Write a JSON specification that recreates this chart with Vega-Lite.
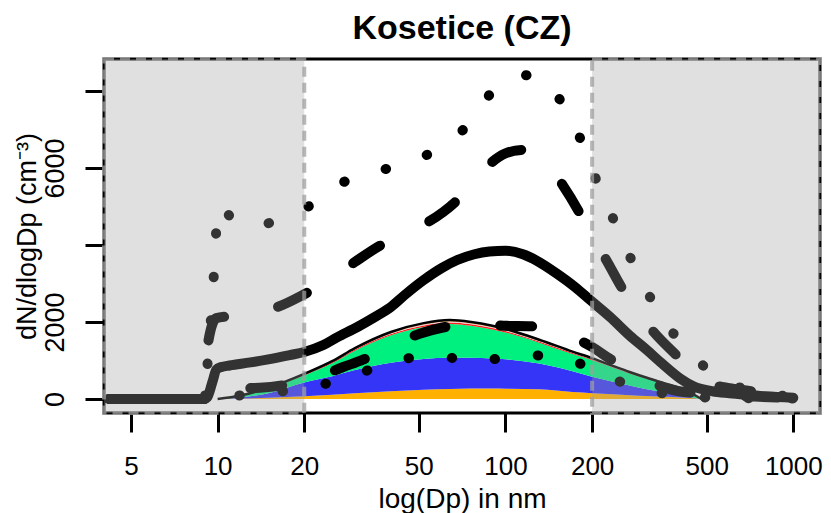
{
"$schema": "https://vega.github.io/schema/vega-lite/v6.json",
"width": 716, "height": 354,
"autosize": {"type": "none"},
"padding": {"left": 104, "top": 59, "right": 11, "bottom": 100},
"background": "white",
"config": {"view": {"stroke": "black", "strokeWidth": 3}, "font": "Liberation Sans"},
"title": {"text": "Kosetice (CZ)", "fontSize": 34, "fontWeight": "bold", "font": "Liberation Sans", "color": "black", "anchor": "middle", "baseline": "alphabetic", "offset": 19, "dy": 37},
"datasets": {
"comps": [
{"d":10,"c1":0,"c2":0,"c3":0,"c4":0,"c5":0,"c6":0},
{"d":12,"c1":10,"c2":30,"c3":46,"c4":2,"c5":1,"c6":1},
{"d":15,"c1":30,"c2":120,"c3":126,"c4":6,"c5":4,"c6":4},
{"d":20,"c1":70,"c2":360,"c3":188,"c4":13,"c5":10,"c6":10},
{"d":25,"c1":110,"c2":480,"c3":341,"c4":20,"c5":15,"c6":15},
{"d":30,"c1":150,"c2":600,"c3":504,"c4":26,"c5":20,"c6":20},
{"d":40,"c1":200,"c2":740,"c3":713,"c4":35,"c5":26,"c6":26},
{"d":52,"c1":240,"c2":800,"c3":832,"c4":39,"c5":30,"c6":30},
{"d":64,"c1":260,"c2":810,"c3":878,"c4":41,"c5":31,"c6":31},
{"d":76,"c1":270,"c2":800,"c3":830,"c4":40,"c5":30,"c6":30},
{"d":90,"c1":270,"c2":780,"c3":755,"c4":38,"c5":29,"c6":29},
{"d":100,"c1":265,"c2":765,"c3":699,"c4":36,"c5":27,"c6":27},
{"d":131,"c1":250,"c2":670,"c3":543,"c4":31,"c5":23,"c6":23},
{"d":171,"c1":180,"c2":540,"c3":449,"c4":25,"c5":18,"c6":18},
{"d":200,"c1":150,"c2":430,"c3":427,"c4":21,"c5":16,"c6":16},
{"d":236,"c1":120,"c2":330,"c3":367,"c4":17,"c5":13,"c6":13},
{"d":270,"c1":100,"c2":250,"c3":315,"c4":14,"c5":11,"c6":11},
{"d":310,"c1":80,"c2":170,"c3":273,"c4":11,"c5":8,"c6":8},
{"d":360,"c1":60,"c2":100,"c3":220,"c4":8,"c5":6,"c6":6},
{"d":405,"c1":40,"c2":50,"c3":176,"c4":6,"c5":4,"c6":4},
{"d":450,"c1":20,"c2":15,"c3":79,"c4":2,"c5":2,"c6":2},
{"d":480,"c1":0,"c2":0,"c3":0,"c4":0,"c5":0,"c6":0}
],
"lines": [
{"s":"total","d":10,"v":0},{"s":"total","d":12,"v":90},{"s":"total","d":15,"v":290},{"s":"total","d":20,"v":651},{"s":"total","d":25,"v":981},{"s":"total","d":30,"v":1320},{"s":"total","d":40,"v":1740},{"s":"total","d":52,"v":1971},{"s":"total","d":64,"v":2051},{"s":"total","d":76,"v":2000},{"s":"total","d":90,"v":1901},{"s":"total","d":100,"v":1819},{"s":"total","d":131,"v":1540},{"s":"total","d":171,"v":1230},{"s":"total","d":200,"v":1060},{"s":"total","d":236,"v":860},{"s":"total","d":270,"v":701},{"s":"total","d":310,"v":550},{"s":"total","d":360,"v":400},{"s":"total","d":405,"v":280},{"s":"total","d":450,"v":120},{"s":"total","d":480,"v":0},
{"s":"med","d":4.2,"v":0},{"s":"med","d":9.0,"v":0},{"s":"med","d":9.2,"v":40},{"s":"med","d":9.6,"v":450},{"s":"med","d":9.9,"v":760},{"s":"med","d":10.3,"v":830},{"s":"med","d":11,"v":870},{"s":"med","d":13,"v":950},{"s":"med","d":15,"v":1030},{"s":"med","d":17.8,"v":1140},{"s":"med","d":20,"v":1220},{"s":"med","d":23.3,"v":1400},{"s":"med","d":26,"v":1600},{"s":"med","d":30.6,"v":1870},{"s":"med","d":35,"v":2120},{"s":"med","d":40,"v":2390},{"s":"med","d":45,"v":2720},{"s":"med","d":52,"v":3090},{"s":"med","d":60,"v":3400},{"s":"med","d":68,"v":3610},{"s":"med","d":78,"v":3760},{"s":"med","d":88,"v":3830},{"s":"med","d":100,"v":3850},{"s":"med","d":115,"v":3760},{"s":"med","d":130,"v":3570},{"s":"med","d":150,"v":3270},{"s":"med","d":175,"v":2900},{"s":"med","d":197,"v":2570},{"s":"med","d":231,"v":2130},{"s":"med","d":270,"v":1650},{"s":"med","d":310,"v":1270},{"s":"med","d":350,"v":920},{"s":"med","d":405,"v":530},{"s":"med","d":450,"v":330},{"s":"med","d":524,"v":200},{"s":"med","d":600,"v":150},{"s":"med","d":687,"v":110},{"s":"med","d":800,"v":70},{"s":"med","d":1000,"v":30},
{"s":"p75","d":4.2,"v":0},{"s":"p75","d":9.0,"v":0},{"s":"p75","d":9.3,"v":1530},{"s":"p75","d":9.9,"v":2100},{"s":"p75","d":11,"v":2150},{"s":"p75","d":13,"v":2250},{"s":"p75","d":16,"v":2380},{"s":"p75","d":20,"v":2720},{"s":"p75","d":25,"v":3150},{"s":"p75","d":30,"v":3560},{"s":"p75","d":37,"v":4000},{"s":"p75","d":45,"v":4300},{"s":"p75","d":54,"v":4600},{"s":"p75","d":67,"v":5120},{"s":"p75","d":78,"v":5650},{"s":"p75","d":90,"v":6160},{"s":"p75","d":100,"v":6380},{"s":"p75","d":115,"v":6470},{"s":"p75","d":130,"v":6300},{"s":"p75","d":145,"v":5950},{"s":"p75","d":158,"v":5560},{"s":"p75","d":181,"v":4830},{"s":"p75","d":200,"v":4200},{"s":"p75","d":222,"v":3660},{"s":"p75","d":254,"v":2880},{"s":"p75","d":290,"v":2250},{"s":"p75","d":323,"v":1790},{"s":"p75","d":392,"v":1140},{"s":"p75","d":450,"v":700},{"s":"p75","d":524,"v":380},{"s":"p75","d":600,"v":280},{"s":"p75","d":687,"v":220},{"s":"p75","d":800,"v":150},{"s":"p75","d":1000,"v":60},
{"s":"p95","d":4.2,"v":0},{"s":"p95","d":9.0,"v":0},{"s":"p95","d":9.3,"v":1300},{"s":"p95","d":9.6,"v":2650},{"s":"p95","d":9.8,"v":3800},{"s":"p95","d":10,"v":4900},{"s":"p95","d":10.4,"v":5050},{"s":"p95","d":11,"v":4750},{"s":"p95","d":11.9,"v":4550},{"s":"p95","d":14,"v":4550},{"s":"p95","d":16.2,"v":4620},{"s":"p95","d":19,"v":4850},{"s":"p95","d":21.9,"v":5120},{"s":"p95","d":25,"v":5450},{"s":"p95","d":29.3,"v":5740},{"s":"p95","d":35,"v":5900},{"s":"p95","d":41,"v":6030},{"s":"p95","d":48,"v":6200},{"s":"p95","d":56,"v":6420},{"s":"p95","d":65,"v":6750},{"s":"p95","d":74,"v":7120},{"s":"p95","d":82,"v":7600},{"s":"p95","d":90.5,"v":8000},{"s":"p95","d":105,"v":8300},{"s":"p95","d":123.6,"v":8420},{"s":"p95","d":140,"v":8150},{"s":"p95","d":158.4,"v":7660},{"s":"p95","d":172,"v":7200},{"s":"p95","d":184.4,"v":6650},{"s":"p95","d":197,"v":6100},{"s":"p95","d":209.6,"v":5580},{"s":"p95","d":225,"v":5100},{"s":"p95","d":240,"v":4570},{"s":"p95","d":258,"v":4050},{"s":"p95","d":277,"v":3530},{"s":"p95","d":300,"v":3000},{"s":"p95","d":325,"v":2520},{"s":"p95","d":360,"v":2000},{"s":"p95","d":394,"v":1580},{"s":"p95","d":445,"v":1150},{"s":"p95","d":501,"v":780},{"s":"p95","d":560,"v":500},{"s":"p95","d":650,"v":300},{"s":"p95","d":750,"v":180},{"s":"p95","d":850,"v":110},{"s":"p95","d":1000,"v":60},
{"s":"p25","d":4.2,"v":0},{"s":"p25","d":9.0,"v":0},{"s":"p25","d":9.3,"v":400},{"s":"p25","d":10,"v":300},{"s":"p25","d":12,"v":280},{"s":"p25","d":14,"v":290},{"s":"p25","d":17,"v":360},{"s":"p25","d":19,"v":440},{"s":"p25","d":22,"v":560},{"s":"p25","d":27.3,"v":830},{"s":"p25","d":32,"v":1020},{"s":"p25","d":35.8,"v":1190},{"s":"p25","d":42,"v":1450},{"s":"p25","d":51,"v":1710},{"s":"p25","d":60,"v":1850},{"s":"p25","d":68,"v":1920},{"s":"p25","d":80,"v":1950},{"s":"p25","d":101,"v":1900},{"s":"p25","d":120,"v":1890},{"s":"p25","d":137,"v":1870},{"s":"p25","d":160,"v":1700},{"s":"p25","d":200,"v":1350},{"s":"p25","d":230,"v":1050},{"s":"p25","d":250,"v":880},{"s":"p25","d":300,"v":570},{"s":"p25","d":358,"v":290},{"s":"p25","d":400,"v":200},{"s":"p25","d":460,"v":160},{"s":"p25","d":550,"v":110},{"s":"p25","d":700,"v":70},{"s":"p25","d":1000,"v":20},
{"s":"p5","d":4.2,"v":0},{"s":"p5","d":9.5,"v":0},{"s":"p5","d":10,"v":50},{"s":"p5","d":13,"v":110},{"s":"p5","d":16,"v":180},{"s":"p5","d":20,"v":280},{"s":"p5","d":28,"v":540},{"s":"p5","d":39,"v":930},{"s":"p5","d":47,"v":1070},{"s":"p5","d":55.5,"v":1120},{"s":"p5","d":66,"v":1060},{"s":"p5","d":77.7,"v":960},{"s":"p5","d":92,"v":1040},{"s":"p5","d":109.6,"v":1140},{"s":"p5","d":130,"v":1130},{"s":"p5","d":154.6,"v":1090},{"s":"p5","d":180,"v":930},{"s":"p5","d":213,"v":670},{"s":"p5","d":250,"v":450},{"s":"p5","d":295,"v":290},{"s":"p5","d":340,"v":170},{"s":"p5","d":400,"v":80},{"s":"p5","d":500,"v":40},{"s":"p5","d":700,"v":20},{"s":"p5","d":1000,"v":10}
],
"shade": [{"from": 4.03, "to": 20}, {"from": 200, "to": 1238}]
},
"encoding": {
"x": {"field": "d", "type": "quantitative", "scale": {"type": "log", "domain": [4.03, 1238], "nice": false},
 "axis": {"values": [5,10,20,50,100,200,500,1000], "format": "d", "domain": false, "grid": false, "tickSize": 19, "tickWidth": 3, "tickColor": "black", "labelFontSize": 26, "labelFont": "Liberation Sans", "labelColor": "black", "labelBaseline": "alphabetic", "labelPadding": 42, "labelFlush": false, "labelOverlap": false, "title": "log(Dp) in nm", "titleFontSize": 28, "titleFont": "Liberation Sans", "titleFontWeight": "normal", "titleColor": "black", "titleBaseline": "alphabetic", "titleY": 94}},
"y": {"field": "v", "type": "quantitative", "scale": {"domain": [-364, 8831], "nice": false, "zero": false},
 "axis": {"values": [0,2000,4000,6000,8000], "format": "d", "labelExpr": "datum.value == 4000 || datum.value == 8000 ? '' : datum.label", "domain": false, "grid": false, "tickSize": 19, "tickWidth": 3, "tickColor": "black", "labelFontSize": 27, "labelFont": "Liberation Sans", "labelColor": "black", "labelAngle": -90, "labelAlign": "center", "labelBaseline": "alphabetic", "labelPadding": 22, "labelOverlap": false, "title": "dN/dlogDp (cm⁻³)", "titleFontSize": 27, "titleFont": "Liberation Sans", "titleFontWeight": "normal", "titleColor": "black", "titleAngle": -90, "titleAlign": "center", "titleBaseline": "alphabetic", "titleX": -69, "titleY": 177}}
},
"layer": [
{
"data": {"name": "comps"},
"transform": [{"fold": ["c1","c2","c3","c4","c5","c6"], "as": ["comp","v"]}],
"mark": {"type": "area", "interpolate": "monotone"},
"encoding": {
"y": {"field": "v", "type": "quantitative", "stack": "zero", "scale": {"domain": [-364, 8831], "nice": false, "zero": false},
 "axis": {"values": [0,2000,4000,6000,8000], "format": "d", "labelExpr": "datum.value == 4000 || datum.value == 8000 ? '' : datum.label", "domain": false, "grid": false, "tickSize": 19, "tickWidth": 3, "tickColor": "black", "labelFontSize": 27, "labelFont": "Liberation Sans", "labelColor": "black", "labelAngle": -90, "labelAlign": "center", "labelBaseline": "alphabetic", "labelPadding": 22, "labelOverlap": false, "title": "dN/dlogDp (cm⁻³)", "titleFontSize": 27, "titleFont": "Liberation Sans", "titleFontWeight": "normal", "titleColor": "black", "titleAngle": -90, "titleAlign": "center", "titleBaseline": "alphabetic", "titleX": -69, "titleY": 177}},
"color": {"field": "comp", "type": "nominal", "scale": {"domain": ["c1","c2","c3","c4","c5","c6"], "range": ["#FFB000", "#3535F8", "#00F080", "#FF2020", "#EEC8C8", "#FFA500"]}, "legend": null},
"order": {"field": "comp", "type": "nominal"}
}
},
{
"data": {"name": "lines"},
"transform": [{"filter": "datum.s == 'total'"}],
"mark": {"type": "line", "interpolate": "monotone", "color": "black", "strokeWidth": 2.5}
},
{
"data": {"name": "lines"},
"transform": [{"filter": "datum.s == 'p5' || datum.s == 'p95'"}],
"mark": {"type": "line", "interpolate": "monotone", "color": "black", "strokeWidth": 10, "strokeCap": "round", "strokeDash": [0.5, 43]},
"encoding": {"detail": {"field": "s", "type": "nominal"}}
},
{
"data": {"name": "lines"},
"transform": [{"filter": "datum.s == 'p25' || datum.s == 'p75'"}],
"mark": {"type": "line", "interpolate": "monotone", "color": "black", "strokeWidth": 10, "strokeCap": "round", "strokeDash": [32, 55], "strokeDashOffset": 20},
"encoding": {"detail": {"field": "s", "type": "nominal"}}
},
{
"data": {"name": "lines"},
"transform": [{"filter": "datum.s == 'med'"}],
"mark": {"type": "line", "interpolate": "monotone", "color": "black", "strokeWidth": 10, "strokeCap": "round", "strokeJoin": "round"}
},
{
"data": {"name": "shade"},
"mark": {"type": "rect", "fill": "#9f9f9f", "fillOpacity": 0.32, "stroke": "#9f9f9f", "strokeOpacity": 0.75, "strokeWidth": 4, "strokeDash": [10, 6]},
"encoding": {
"x": {"field": "from", "type": "quantitative", "scale": {"type": "log", "domain": [4.03, 1238], "nice": false},
 "axis": {"values": [5,10,20,50,100,200,500,1000], "format": "d", "domain": false, "grid": false, "tickSize": 19, "tickWidth": 3, "tickColor": "black", "labelFontSize": 26, "labelFont": "Liberation Sans", "labelColor": "black", "labelBaseline": "alphabetic", "labelPadding": 42, "labelFlush": false, "labelOverlap": false, "title": "log(Dp) in nm", "titleFontSize": 28, "titleFont": "Liberation Sans", "titleFontWeight": "normal", "titleColor": "black", "titleBaseline": "alphabetic", "titleY": 94}},
"x2": {"field": "to"},
"y": null
}
}
]
}
